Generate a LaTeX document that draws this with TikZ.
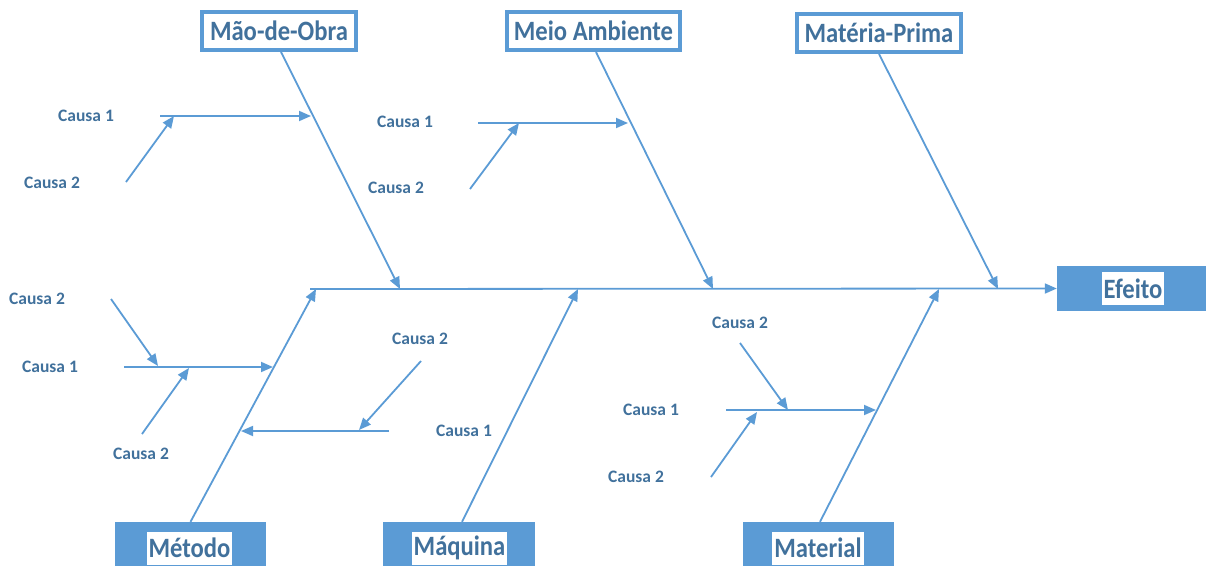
\documentclass[tikz,border=0pt]{standalone}
\usepackage{fontspec}
\setmainfont{Carlito}
\newfontfamily\boxfont[FakeStretch=0.88]{Carlito}
\newfontfamily\causefont{Carlito}
\usetikzlibrary{arrows.meta}
\definecolor{lineblue}{HTML}{5B9BD5}
\definecolor{textblue}{HTML}{41719C}
\tikzset{
  ln/.style={draw=lineblue, line width=1.8pt},
  arr/.style={ln, -{Triangle[length=12pt,width=10pt]}},
  topbox/.style={draw=lineblue, line width=4pt, fill=white, text=textblue,
    font=\boxfont\bfseries\fontsize{28}{31}\selectfont, inner sep=0pt, minimum height=38pt},
  botbox/.style={fill=lineblue, draw=none, inner sep=0pt},
  hltext/.style={fill=white, text=textblue, font=\boxfont\bfseries\fontsize{28}{31}\selectfont,
    inner xsep=2pt, inner ysep=0pt, minimum height=33pt},
  cause/.style={text=textblue, font=\causefont\bfseries\fontsize{17.5}{20}\selectfont, inner sep=0pt}
}
\begin{document}
\begin{tikzpicture}[x=1pt,y=-1pt]
\useasboundingbox (0,0) rectangle (1206,565);
% top boxes
\node[topbox, minimum width=154pt] (mao) at (279,31) {Mão-de-Obra};
\node[topbox, minimum width=173pt] (meio) at (593.5,31) {Meio Ambiente};
\node[topbox, minimum width=164pt] (mat) at (879,33) {Matéria-Prima};
% effect box
\node[botbox, minimum width=149pt, minimum height=45pt] (efeito) at (1131.5,288.5) {};
\node[hltext] (efeito-t) at (1133,288.5) {Efeito};
% bottom boxes
\node[botbox, minimum width=151pt, minimum height=46pt] (metodo) at (190.5,545) {};
\node[hltext] (metodo-t) at (189.5,548) {Método};
\node[botbox, minimum width=152pt, minimum height=46pt] (maq) at (459,545) {};
\node[hltext] (maq-t) at (459.5,548) {Máquina};
\node[botbox, minimum width=151pt, minimum height=46pt] (matl) at (818.5,545) {};
\node[hltext] (matl-t) at (818,548) {Material};

% spine
\coordinate (sp0) at (310,289);
\draw[arr] (sp0) -- (efeito.west);

% rib points on spine
\coordinate (r1) at (400,289);
\coordinate (r2) at (713,289);
\coordinate (r3) at (998,289);
\coordinate (r4) at (316,289);
\coordinate (r5) at (578,289);
\coordinate (r6) at (939,289);
\draw[arr] ([xshift=2pt]mao.south) -- (r1);
\draw[arr] ([xshift=2.5pt]meio.south) -- (r2);
\draw[arr] (mat.south) -- (r3);
\draw[arr] (metodo.north) -- (r4);
\draw[arr] ([xshift=3pt]maq.north) -- (r5);
\draw[arr] ([xshift=1.5pt]matl.north) -- (r6);

% Mao-de-Obra causes
\coordinate (a1s) at (160,116); \coordinate (a1e) at (311,116);
\coordinate (a2s) at (126,182); \coordinate (a2e) at (174,116);
\draw[arr] (a1s) -- (a1e);
\draw[arr] (a2s) -- (a2e);
\node[cause] (la1) at (86,116) {Causa 1};
\node[cause] (la2) at (52,183) {Causa 2};

% Meio Ambiente causes
\coordinate (b1s) at (478,123); \coordinate (b1e) at (628,123);
\coordinate (b2s) at (470,189); \coordinate (b2e) at (519,123);
\draw[arr] (b1s) -- (b1e);
\draw[arr] (b2s) -- (b2e);
\node[cause] (lb1) at (405,122) {Causa 1};
\node[cause] (lb2) at (396,188) {Causa 2};

% Metodo causes
\coordinate (c1s) at (124,367); \coordinate (c1e) at (273,367);
\coordinate (c2s) at (111,299); \coordinate (c2e) at (158,366);
\coordinate (c3s) at (142,434); \coordinate (c3e) at (189,368);
\draw[arr] (c1s) -- (c1e);
\draw[arr] (c2s) -- (c2e);
\draw[arr] (c3s) -- (c3e);
\node[cause] (lc2) at (37,299) {Causa 2};
\node[cause] (lc1) at (50,367) {Causa 1};
\node[cause] (lc3) at (141,454) {Causa 2};

\coordinate (d1s) at (389,431); \coordinate (d1e) at (241,431);
\coordinate (d2s) at (421,361); \coordinate (d2e) at (359,430);
\draw[arr] (d1s) -- (d1e);
\draw[arr] (d2s) -- (d2e);
\node[cause] (ld2) at (420,339) {Causa 2};
\node[cause] (ld1) at (464,431) {Causa 1};

% Material causes
\coordinate (e1s) at (726,410); \coordinate (e1e) at (876,410);
\coordinate (e2s) at (740,343); \coordinate (e2e) at (788,410);
\coordinate (e3s) at (711,477); \coordinate (e3e) at (757,412);
\draw[arr] (e1s) -- (e1e);
\draw[arr] (e2s) -- (e2e);
\draw[arr] (e3s) -- (e3e);
\node[cause] (le2) at (740,323) {Causa 2};
\node[cause] (le1) at (651,410) {Causa 1};
\node[cause] (le3) at (636,477) {Causa 2};
\end{tikzpicture}
\end{document}
